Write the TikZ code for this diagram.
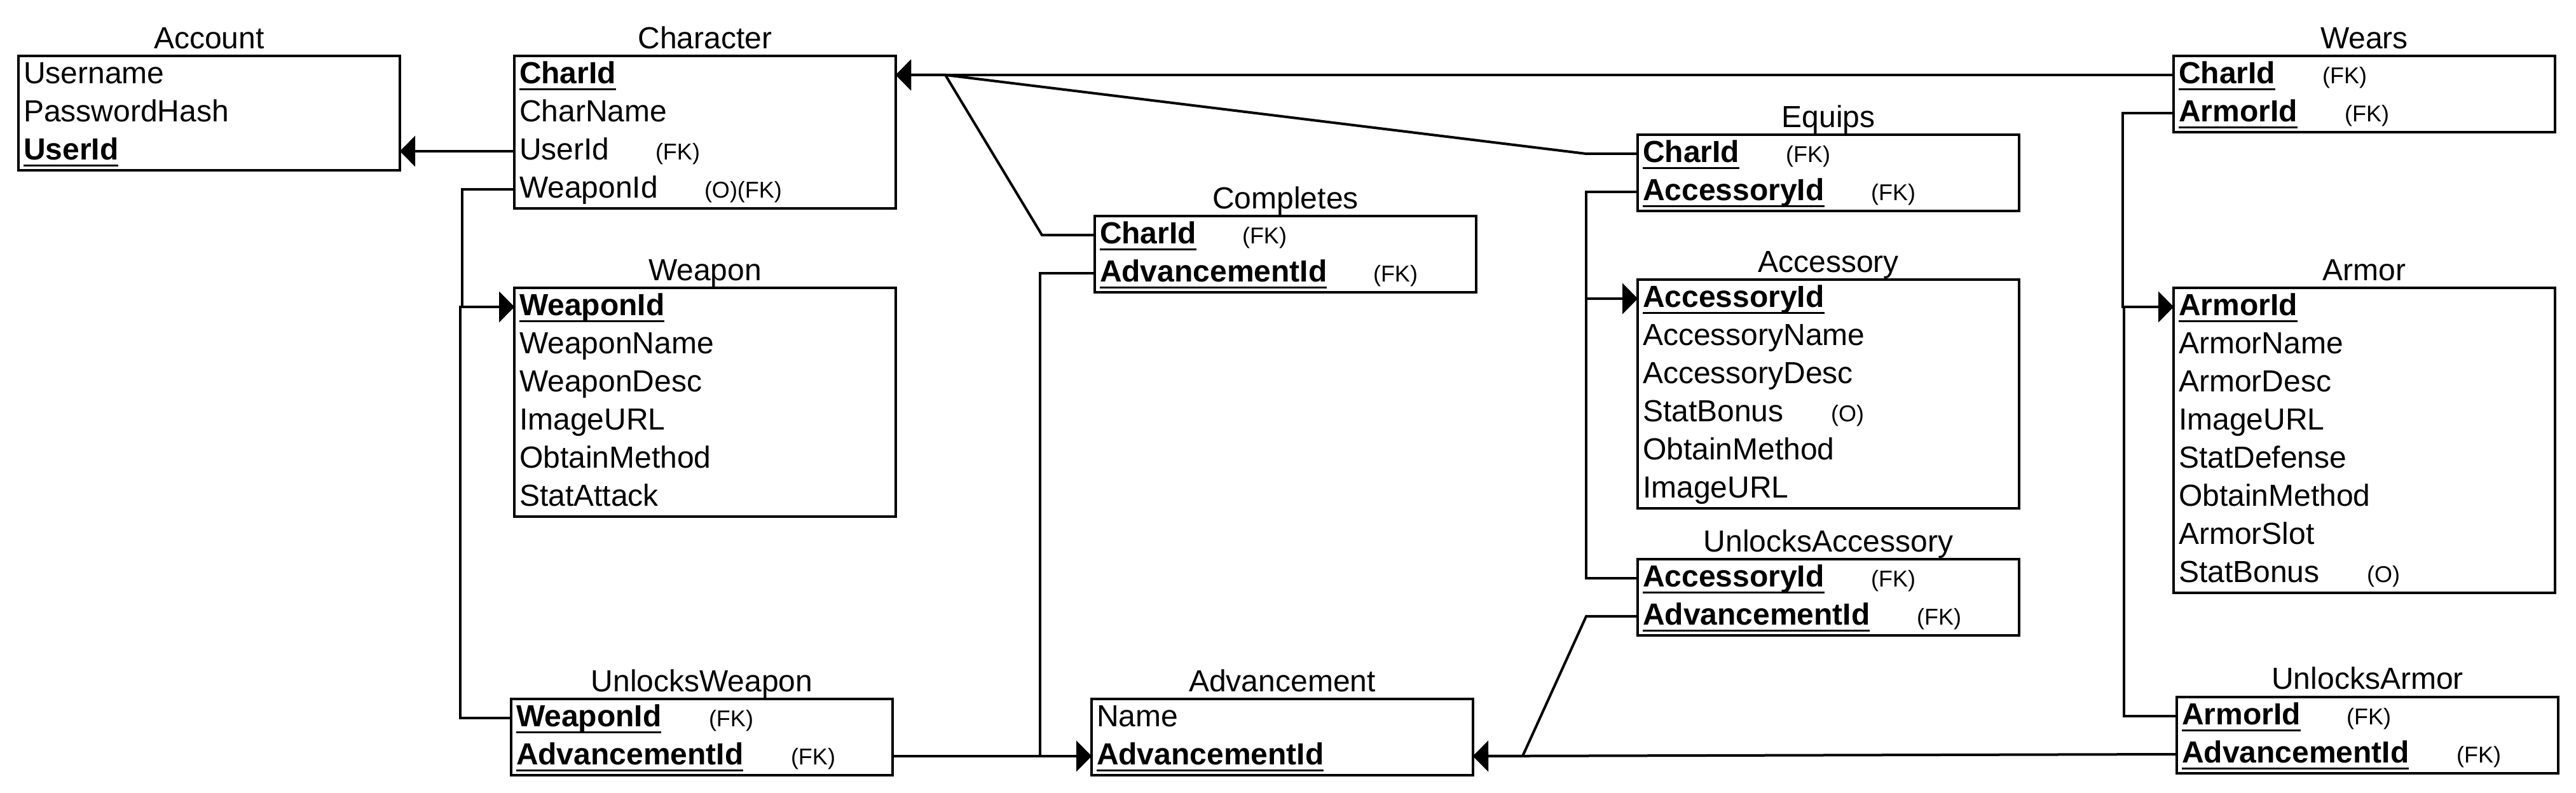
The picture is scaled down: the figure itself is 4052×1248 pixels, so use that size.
\documentclass[tikz,border=0pt]{standalone}
\usepackage{fontspec}
\setmainfont{Liberation Sans}
\usetikzlibrary{arrows.meta,fit}

\newcommand{\pkey}[1]{\setbox0=\hbox{\bfseries #1}\rlap{\rule[-2.5pt]{\wd0}{0.75pt}}\box0}
\newcommand{\fknote}[1]{{\fontsize{9}{10}\selectfont #1}}
\newcommand{\colat}[2]{\makebox[#1][l]{#2}}

\tikzset{every picture/.style={line width=1pt}}
\tikzset{
  fld/.style={anchor=north west, inner xsep=2pt, inner ysep=0pt, outer sep=0pt, text width=146pt, minimum height=15pt,
    align=left, text height=8.6pt, text depth=1.6pt, font=\fontsize{12}{14}\selectfont},
  tbl/.style={draw, inner sep=0pt},
  ttl/.style={anchor=base, inner sep=0pt, font=\fontsize{12}{14}\selectfont},
  fk/.style={-{Triangle[length=6pt,width=12pt]}},
}

\begin{document}
\begin{tikzpicture}[x=0.25pt,y=0.25pt,yscale=-1,xscale=1]
\useasboundingbox (0,0) rectangle (4052,1248);

% Account
\node[fld] (ac-username) at (29,88) {Username};
\node[fld] (ac-passwordhash) at (29,148) {PasswordHash};
\node[fld] (ac-userid) at (29,208) {\pkey{UserId}};
\node[tbl, fit=(ac-username)(ac-userid)] (account) {};
\node[ttl] (account-title) at (329,77) {Account};

% Character
\node[fld] (ch-charid) at (809,88) {\pkey{CharId}};
\node[fld] (ch-charname) at (809,148) {CharName};
\node[fld] (ch-userid) at (809,208) {\colat{53.5pt}{UserId}\fknote{(FK)}};
\node[fld] (ch-weaponid) at (809,268) {\colat{72.75pt}{WeaponId}\fknote{(O)(FK)}};
\node[tbl, fit=(ch-charid)(ch-weaponid)] (character) {};
\node[ttl] (character-title) at (1109,77) {Character};

% Weapon
\node[fld] (wp-weaponid) at (809,453) {\pkey{WeaponId}};
\node[fld] (wp-weaponname) at (809,513) {WeaponName};
\node[fld] (wp-weapondesc) at (809,573) {WeaponDesc};
\node[fld] (wp-imageurl) at (809,633) {ImageURL};
\node[fld] (wp-obtainmethod) at (809,693) {ObtainMethod};
\node[fld] (wp-statattack) at (809,753) {StatAttack};
\node[tbl, fit=(wp-weaponid)(wp-statattack)] (weapon) {};
\node[ttl] (weapon-title) at (1109,442) {Weapon};

% UnlocksWeapon
\node[fld] (uw-weaponid) at (804,1100) {\colat{75.75pt}{\pkey{WeaponId}}\fknote{(FK)}};
\node[fld] (uw-advid) at (804,1160) {\colat{108pt}{\pkey{AdvancementId}}\fknote{(FK)}};
\node[tbl, fit=(uw-weaponid)(uw-advid)] (unlocksweapon) {};
\node[ttl] (unlocksweapon-title) at (1104,1089) {UnlocksWeapon};

% Completes
\node[fld] (co-charid) at (1722,340) {\colat{56pt}{\pkey{CharId}}\fknote{(FK)}};
\node[fld] (co-advid) at (1722,400) {\colat{107.5pt}{\pkey{AdvancementId}}\fknote{(FK)}};
\node[tbl, fit=(co-charid)(co-advid)] (completes) {};
\node[ttl] (completes-title) at (2022,329) {Completes};

% Advancement
\node[fld] (ad-name) at (1717,1100) {Name};
\node[fld] (ad-advid) at (1717,1160) {\pkey{AdvancementId}};
\node[tbl, fit=(ad-name)(ad-advid)] (advancement) {};
\node[ttl] (advancement-title) at (2017,1089) {Advancement};

% Equips
\node[fld] (eq-charid) at (2576,212) {\colat{56.25pt}{\pkey{CharId}}\fknote{(FK)}};
\node[fld] (eq-accid) at (2576,272) {\colat{89.75pt}{\pkey{AccessoryId}}\fknote{(FK)}};
\node[tbl, fit=(eq-charid)(eq-accid)] (equips) {};
\node[ttl] (equips-title) at (2876,201) {Equips};

% Accessory
\node[fld] (acc-accid) at (2576,440) {\pkey{AccessoryId}};
\node[fld] (acc-accname) at (2576,500) {AccessoryName};
\node[fld] (acc-accdesc) at (2576,560) {AccessoryDesc};
\node[fld] (acc-statbonus) at (2576,620) {\colat{74pt}{StatBonus}\fknote{(O)}};
\node[fld] (acc-obtainmethod) at (2576,680) {ObtainMethod};
\node[fld] (acc-imageurl) at (2576,740) {ImageURL};
\node[tbl, fit=(acc-accid)(acc-imageurl)] (accessory) {};
\node[ttl] (accessory-title) at (2876,429) {Accessory};

% UnlocksAccessory
\node[fld] (ua-accid) at (2576,880) {\colat{89.75pt}{\pkey{AccessoryId}}\fknote{(FK)}};
\node[fld] (ua-advid) at (2576,940) {\colat{107.75pt}{\pkey{AdvancementId}}\fknote{(FK)}};
\node[tbl, fit=(ua-accid)(ua-advid)] (unlocksaccessory) {};
\node[ttl] (unlocksaccessory-title) at (2876,869) {UnlocksAccessory};

% Wears
\node[fld] (we-charid) at (3419,88) {\colat{56.5pt}{\pkey{CharId}}\fknote{(FK)}};
\node[fld] (we-armorid) at (3419,148) {\colat{65.25pt}{\pkey{ArmorId}}\fknote{(FK)}};
\node[tbl, fit=(we-charid)(we-armorid)] (wears) {};
\node[ttl] (wears-title) at (3719,77) {Wears};

% Armor
\node[fld] (ar-armorid) at (3419,453) {\pkey{ArmorId}};
\node[fld] (ar-armorname) at (3419,513) {ArmorName};
\node[fld] (ar-armordesc) at (3419,573) {ArmorDesc};
\node[fld] (ar-imageurl) at (3419,633) {ImageURL};
\node[fld] (ar-statdefense) at (3419,693) {StatDefense};
\node[fld] (ar-obtainmethod) at (3419,753) {ObtainMethod};
\node[fld] (ar-armorslot) at (3419,813) {ArmorSlot};
\node[fld] (ar-statbonus) at (3419,873) {\colat{74pt}{StatBonus}\fknote{(O)}};
\node[tbl, fit=(ar-armorid)(ar-statbonus)] (armor) {};
\node[ttl] (armor-title) at (3719,442) {Armor};

% UnlocksArmor
\node[fld] (ur-armorid) at (3424,1097) {\colat{64.75pt}{\pkey{ArmorId}}\fknote{(FK)}};
\node[fld] (ur-advid) at (3424,1157) {\colat{108pt}{\pkey{AdvancementId}}\fknote{(FK)}};
\node[tbl, fit=(ur-armorid)(ur-advid)] (unlocksarmor) {};
\node[ttl] (unlocksarmor-title) at (3724,1085) {UnlocksArmor};

%Straight Lines
\coordinate (charjoin) at (1487,118);
\coordinate (advjoin) at (2395,1190);
\draw[fk] (ch-userid.west) -- (ac-userid.east);
\draw[fk] (ch-weaponid.west) -- ++(-82,0) |- (wp-weaponid.west);
\draw[fk] (uw-weaponid.west) -- ++(-80,0) |- (wp-weaponid.west);
\draw[fk] (uw-advid.east) -- (ad-advid.west);
\draw[fk] (co-advid.west) -- ++(-86,0) |- (ad-advid.west);
\draw[fk] (co-charid.west) -- ++(-83,0) -- (charjoin) -- (ch-charid.east);
\draw[fk] (eq-charid.west) -- ++(-81,0) -- (charjoin) -- (ch-charid.east);
\draw[fk] (we-charid.west) -- (ch-charid.east);
\draw[fk] (eq-accid.west) -- ++(-81,0) |- (acc-accid.west);
\draw[fk] (ua-accid.west) -- ++(-81,0) |- (acc-accid.west);
\draw[fk] (ua-advid.west) -- ++(-81,0) -- (advjoin) -- (ad-advid.east);
\draw[fk] (ur-advid.west) -- (ad-advid.east);
\draw[fk] (we-armorid.west) -- ++(-80,0) |- (ar-armorid.west);
\draw[fk] (ur-armorid.west) -- ++(-83,0) |- (ar-armorid.west);

\end{tikzpicture}
\end{document}
